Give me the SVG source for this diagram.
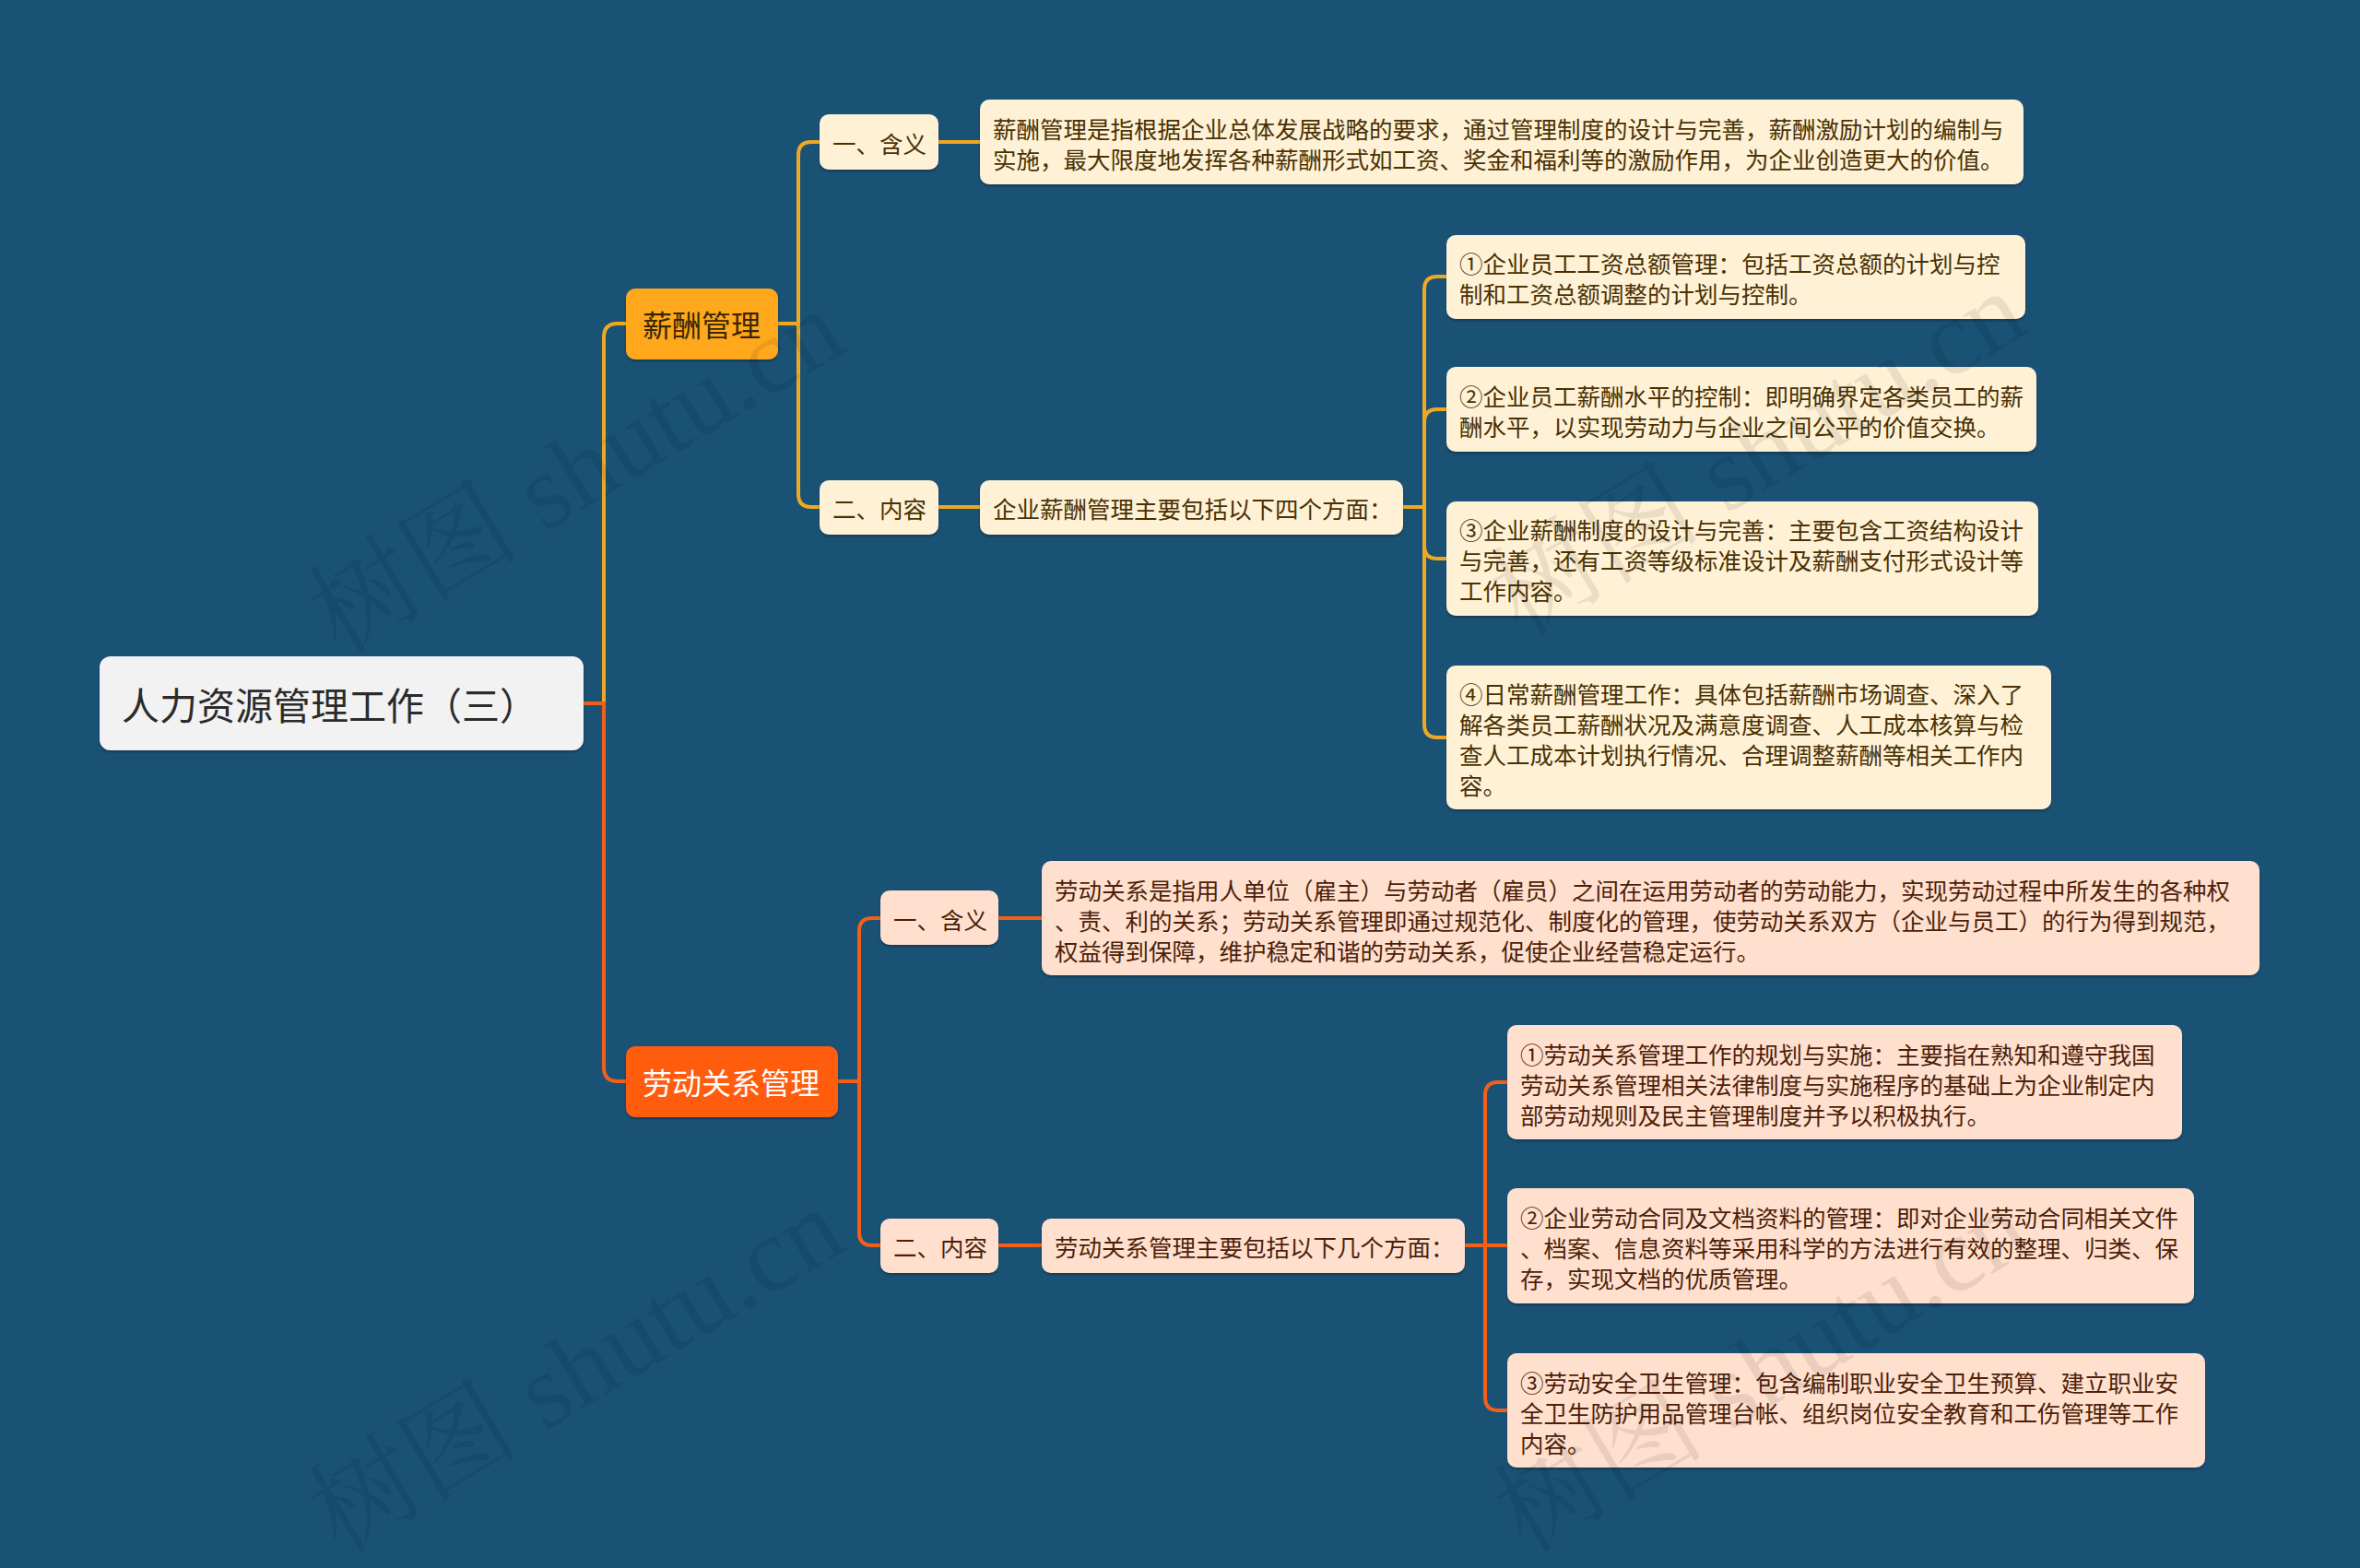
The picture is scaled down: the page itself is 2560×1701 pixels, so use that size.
<svg xmlns="http://www.w3.org/2000/svg" width="2560" height="1701" viewBox="0 0 2560 1701">
<defs>
<filter id="sh" x="-5%" y="-10%" width="110%" height="130%"><feDropShadow dx="0" dy="2" stdDeviation="1.5" flood-color="#000" flood-opacity="0.3"/></filter>
<style>
text{font-family:"Noto Sans CJK SC","Noto Sans",sans-serif;dominant-baseline:central}
.root rect{fill:#f2f2f2}
.root text{font-size:41px;fill:#2b2b2b}
.m1 rect{fill:#ffa81f}
.m1 text{font-size:32px;fill:#3a2605}
.m2 rect{fill:#ff5c0a}
.m2 text{font-size:32px;fill:#ffffff}
.s rect{fill:#fff1d6}
.s text{font-size:25.5px;fill:#4a3103}
.l rect{fill:#ffe0ce}
.l text{font-size:25.5px;fill:#4d1f0a}
.cg path{fill:none;stroke:#f0a823;stroke-width:4;stroke-linecap:round}
.co path{fill:none;stroke:#f0601a;stroke-width:4;stroke-linecap:round}
.wm{font-family:"Liberation Serif","Noto Serif CJK SC","Noto Sans CJK SC",serif;font-size:115px;fill:#000;opacity:0.08;dominant-baseline:auto}
</style>
</defs>
<rect width="2560" height="1701" fill="#1a5276"/>
<g id="connectors">
<g class="cg">
<path d="M655,763 V366 Q655,351 670,351 H679"/>
<path d="M844,351 H866"/>
<path d="M866,351 V168 Q866,154 880,154 H889"/>
<path d="M866,351 V536 Q866,550 880,550 H889"/>
<path d="M1018,154 H1063"/>
<path d="M1018,550 H1063"/>
<path d="M1522,550 H1545"/>
<path d="M1545,550 V314 Q1545,300 1559,300 H1569"/>
<path d="M1545,550 V458 Q1545,444 1559,444 H1569"/>
<path d="M1545,550 V592 Q1545,606 1559,606 H1569"/>
<path d="M1545,550 V786 Q1545,800 1559,800 H1569"/>
</g>
<g class="co">
<path d="M633,763 H655 V1158 Q655,1173 670,1173 H679"/>
<path d="M909,1173 H932"/>
<path d="M932,1173 V1010 Q932,996 946,996 H955"/>
<path d="M932,1173 V1337 Q932,1351 946,1351 H955"/>
<path d="M1083,996 H1130"/>
<path d="M1083,1351 H1130"/>
<path d="M1589,1351 H1611"/>
<path d="M1611,1351 V1188 Q1611,1174 1625,1174 H1635"/>
<path d="M1611,1351 H1635"/>
<path d="M1611,1351 V1516 Q1611,1530 1625,1530 H1635"/>
</g>
</g>
<g id="root" class="root"><rect x="108" y="712" width="525" height="102" rx="12" filter="url(#sh)"/><text x="132" y="763">人力资源管理工作（三）</text></g>
<g id="salary" class="m1"><rect x="679" y="313" width="165" height="77" rx="10" filter="url(#sh)"/><text x="697" y="351">薪酬管理</text></g>
<g id="labor" class="m2"><rect x="679" y="1135" width="230" height="77" rx="10" filter="url(#sh)"/><text x="697" y="1173">劳动关系管理</text></g>
<g id="s-meaning" class="s"><rect x="889" y="124" width="129" height="60" rx="10" filter="url(#sh)"/><text x="903" y="154">一、含义</text></g>
<g id="s-content" class="s"><rect x="889" y="521" width="129" height="59" rx="10" filter="url(#sh)"/><text x="903" y="550">二、内容</text></g>
<g id="s-def" class="s"><rect x="1063" y="108" width="1132" height="92" rx="10" filter="url(#sh)"/><text x="1077" y="138">薪酬管理是指根据企业总体发展战略的要求，通过管理制度的设计与完善，薪酬激励计划的编制与</text><text x="1077" y="171">实施，最大限度地发挥各种薪酬形式如工资、奖金和福利等的激励作用，为企业创造更大的价值。</text></g>
<g id="s-main" class="s"><rect x="1063" y="521" width="459" height="59" rx="10" filter="url(#sh)"/><text x="1077" y="550">企业薪酬管理主要包括以下四个方面：</text></g>
<g id="s-1" class="s"><rect x="1569" y="255" width="628" height="91" rx="10" filter="url(#sh)"/><text x="1583" y="284">①企业员工工资总额管理：包括工资总额的计划与控</text><text x="1583" y="317">制和工资总额调整的计划与控制。</text></g>
<g id="s-2" class="s"><rect x="1569" y="398" width="640" height="92" rx="10" filter="url(#sh)"/><text x="1583" y="428">②企业员工薪酬水平的控制：即明确界定各类员工的薪</text><text x="1583" y="461">酬水平，以实现劳动力与企业之间公平的价值交换。</text></g>
<g id="s-3" class="s"><rect x="1569" y="544" width="642" height="124" rx="10" filter="url(#sh)"/><text x="1583" y="573">③企业薪酬制度的设计与完善：主要包含工资结构设计</text><text x="1583" y="606">与完善，还有工资等级标准设计及薪酬支付形式设计等</text><text x="1583" y="639">工作内容。</text></g>
<g id="s-4" class="s"><rect x="1569" y="722" width="656" height="156" rx="10" filter="url(#sh)"/><text x="1583" y="751">④日常薪酬管理工作：具体包括薪酬市场调查、深入了</text><text x="1583" y="784">解各类员工薪酬状况及满意度调查、人工成本核算与检</text><text x="1583" y="817">查人工成本计划执行情况、合理调整薪酬等相关工作内</text><text x="1583" y="850">容。</text></g>
<g id="l-meaning" class="l"><rect x="955" y="966" width="128" height="59" rx="10" filter="url(#sh)"/><text x="969" y="996">一、含义</text></g>
<g id="l-content" class="l"><rect x="955" y="1322" width="128" height="59" rx="10" filter="url(#sh)"/><text x="969" y="1351">二、内容</text></g>
<g id="l-def" class="l"><rect x="1130" y="934" width="1321" height="124" rx="10" filter="url(#sh)"/><text x="1144" y="964">劳动关系是指用人单位（雇主）与劳动者（雇员）之间在运用劳动者的劳动能力，实现劳动过程中所发生的各种权</text><text x="1144" y="997">、责、利的关系；劳动关系管理即通过规范化、制度化的管理，使劳动关系双方（企业与员工）的行为得到规范，</text><text x="1144" y="1030">权益得到保障，维护稳定和谐的劳动关系，促使企业经营稳定运行。</text></g>
<g id="l-main" class="l"><rect x="1130" y="1322" width="459" height="59" rx="10" filter="url(#sh)"/><text x="1144" y="1351">劳动关系管理主要包括以下几个方面：</text></g>
<g id="l-1" class="l"><rect x="1635" y="1112" width="732" height="124" rx="10" filter="url(#sh)"/><text x="1649" y="1142">①劳动关系管理工作的规划与实施：主要指在熟知和遵守我国</text><text x="1649" y="1175">劳动关系管理相关法律制度与实施程序的基础上为企业制定内</text><text x="1649" y="1208">部劳动规则及民主管理制度并予以积极执行。</text></g>
<g id="l-2" class="l"><rect x="1635" y="1289" width="745" height="125" rx="10" filter="url(#sh)"/><text x="1649" y="1319">②企业劳动合同及文档资料的管理：即对企业劳动合同相关文件</text><text x="1649" y="1352">、档案、信息资料等采用科学的方法进行有效的整理、归类、保</text><text x="1649" y="1385">存，实现文档的优质管理。</text></g>
<g id="l-3" class="l"><rect x="1635" y="1468" width="757" height="124" rx="10" filter="url(#sh)"/><text x="1649" y="1498">③劳动安全卫生管理：包含编制职业安全卫生预算、建立职业安</text><text x="1649" y="1531">全卫生防护用品管理台帐、组织岗位安全教育和工伤管理等工作</text><text x="1649" y="1564">内容。</text></g>
<g id="watermarks">
<text class="wm" text-anchor="middle" transform="translate(645,545) rotate(-31)">树图 shutu.cn</text>
<text class="wm" text-anchor="middle" transform="translate(1927,525) rotate(-31)">树图 shutu.cn</text>
<text class="wm" text-anchor="middle" transform="translate(645,1520) rotate(-31)">树图 shutu.cn</text>
<text class="wm" text-anchor="middle" transform="translate(1931,1520) rotate(-31)">树图 shutu.cn</text>
</g>
</svg>
